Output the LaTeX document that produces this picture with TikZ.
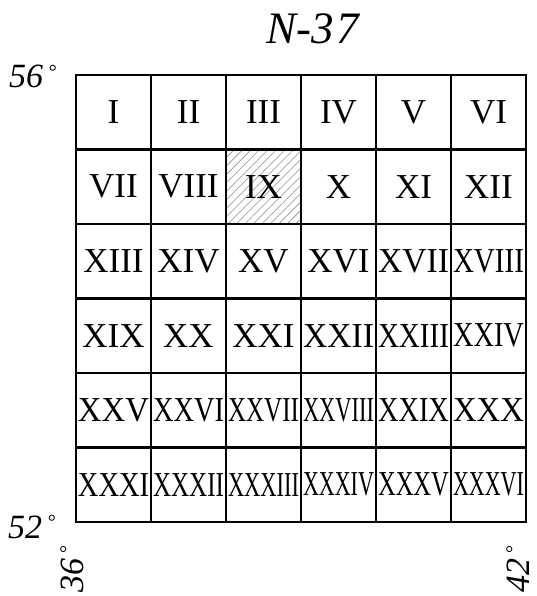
\documentclass[tikz,border=0pt]{standalone}
\usepackage{fontspec}
\setmainfont{Liberation Serif}
\usetikzlibrary{patterns.meta}
\newcommand\fitlbl[1]{\setbox0\hbox{#1}\ifdim\wd0>71pt \resizebox{71pt}{\ht0}{#1}\else #1\fi}
\newcommand\degsym{\raisebox{0.6ex}{\fontsize{20pt}{20pt}\selectfont\upshape °}}
\tikzset{
  cell/.style={draw, line width=2.8pt, minimum width=75pt, minimum height=74.5pt,
    inner sep=0pt, outer sep=0pt, font=\fontsize{35pt}{35pt}\selectfont},
  hatched/.style={pattern={Lines[angle=45,distance=6pt,line width=0.6pt]}, pattern color=gray!90},
  coord/.style={inner sep=0pt, font=\fontsize{34pt}{34pt}\selectfont\itshape}
}
\begin{document}
\begin{tikzpicture}[x=1pt,y=-1pt]
\useasboundingbox (0,0) rectangle (537,596);
\foreach \lbl [count=\i from 0] in {I,II,III,IV,V,VI,VII,VIII,IX,X,XI,XII,XIII,XIV,XV,XVI,XVII,XVIII,XIX,XX,XXI,XXII,XXIII,XXIV,XXV,XXVI,XXVII,XXVIII,XXIX,XXX,XXXI,XXXII,XXXIII,XXXIV,XXXV,XXXVI}{
  \pgfmathtruncatemacro\r{int(\i/6)}
  \pgfmathtruncatemacro\c{mod(\i,6)}
  \ifnum\i=8
    \node[cell, hatched] (cell-\i) at ({113.5+75*\c},{112.25+74.5*\r}) {\fitlbl{\lbl}};
  \else
    \node[cell] (cell-\i) at ({113.5+75*\c},{112.25+74.5*\r}) {\fitlbl{\lbl}};
  \fi
}
\node[inner sep=0pt, font=\fontsize{45pt}{45pt}\selectfont\itshape, anchor=base] (title) at (313,44) {N-3\kern3pt 7};
\node[coord, anchor=base west] (lat56) at (9,88) {56\,\degsym};
\node[coord, anchor=base west] (lat52) at (8,538) {52\,\degsym};
\node[coord, rotate=90, anchor=base east] (lon36) at (83,545) {36\,\degsym};
\node[coord, rotate=90, anchor=base east] (lon42) at (529,545) {42\,\degsym};
\end{tikzpicture}
\end{document}
